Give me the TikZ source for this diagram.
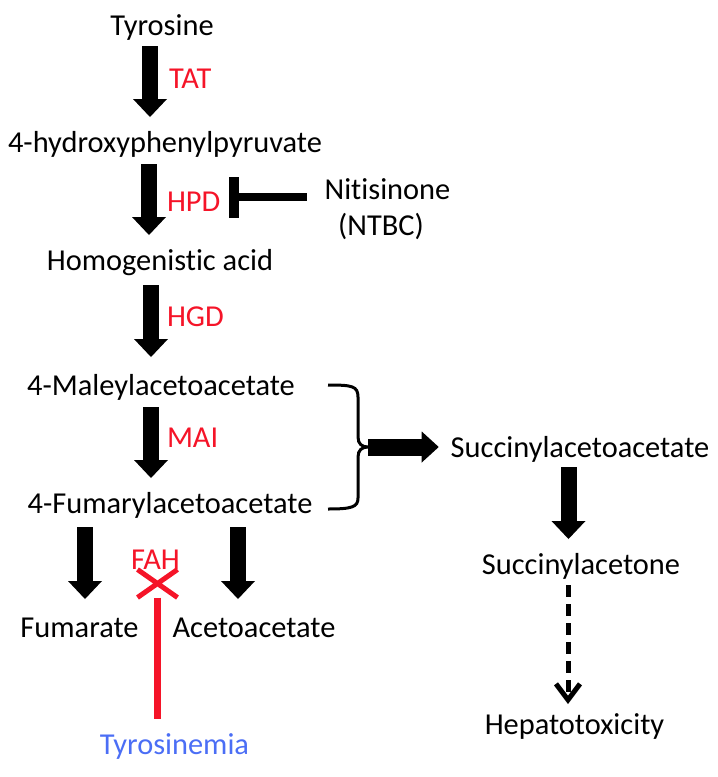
\documentclass[tikz,border=0pt]{standalone}
\usepackage{fontspec}
\setmainfont[Ligatures=NoCommon]{Carlito}
\usetikzlibrary{arrows.meta,shapes.misc}
\definecolor{enz}{RGB}{245,20,40}
\definecolor{dis}{RGB}{75,110,245}
\begin{document}
\begin{tikzpicture}[x=1pt,y=-1pt,
  lbl/.style={anchor=base,inner sep=0pt,outer sep=0pt,text height=19pt,text depth=6pt,font=\fontsize{30.4}{36}\selectfont},
  enzl/.style={lbl,anchor=base west,text=enz},
  blk/.style={line width=16pt,-{Triangle[width=34pt,length=18pt,line width=0pt]}},
  fat/.style={line width=17pt,-{Triangle[width=31pt,length=17pt,line width=0pt]}},
  dsh/.style={line width=5pt,dash pattern=on 12pt off 7pt,-{Straight Barb[width=24pt,length=16pt]}},
  inhib/.style={line width=8pt},
  inhbar/.style={line width=10pt},
  bracel/.style={line width=3pt},
  redl/.style={draw=enz,line width=7pt}
]
\useasboundingbox (0,0) rectangle (718,777);
% metabolites
\node[lbl] (tyr) at (162,35) {Tyrosine};
\node[lbl] (hpp) at (165,152) {4-hydroxyphenylpyruvate};
\node[lbl] (hga) at (160,270) {Homogenistic acid};
\node[lbl] (mal) at (161,395) {4-Maleylacetoacetate};
\node[lbl] (fum) at (170,513) {4-Fumarylacetoacetate};
\node[lbl] (fa) at (79.5,637) {Fumarate};
\node[lbl] (aa) at (254,637) {Acetoacetate};
\node[lbl,text=dis] (tyro) at (174.5,754) {Tyrosinemia};
\node[lbl] (nit) at (387.5,199) {Nitisinone};
\node[lbl] (ntbc) at (381,235) {(NTBC)};
\node[lbl] (sa) at (580,457) {Succinylacetoacetate};
\node[lbl] (sn) at (581,574) {Succinylacetone};
\node[lbl] (hep) at (574.5,734) {Hepatotoxicity};
% enzymes
\node[enzl] (tat) at (169,88) {TAT};
\node[enzl] (hpd) at (167,211) {HPD};
\node[enzl] (hgd) at (167,326) {HGD};
\node[enzl] (mai) at (167,447) {MAI};
\node[lbl,text=enz] (fah) at (155.5,569) {FAH};
% main pathway arrows
\draw[blk] ([xshift=-12pt,yshift=-5pt]tyr.south) -- ([xshift=-15pt,yshift=16pt]hpp.north);
\draw[blk] ([xshift=-16pt,yshift=-6pt]hpp.south) -- ([xshift=-11pt,yshift=16pt]hga.north);
\draw[blk] ([xshift=-9pt,yshift=-9pt]hga.south) -- ([xshift=-10pt,yshift=19pt]mal.north);
\draw[blk] ([xshift=-10pt,yshift=-6pt]mal.south) -- ([xshift=-19pt,yshift=16pt]fum.north);
\draw[blk] ([xshift=-85pt,yshift=-8pt]fum.south) -- ([xshift=5.5pt,yshift=19pt]fa.north);
\draw[blk] ([xshift=68pt,yshift=-8pt]fum.south) -- ([xshift=-16pt,yshift=19pt]aa.north);
\draw[blk] ([xshift=-11.5pt,yshift=-4pt]sa.south) -- ([xshift=-12.5pt,yshift=16pt]sn.north);
\draw[dsh] ([xshift=-13pt,yshift=-5pt]sn.south) -- ([xshift=-6.5pt,yshift=11pt]hep.north);
% inhibition by nitisinone
\draw[inhib] ([xshift=-18pt,yshift=-4.5pt]nit.west) -- (234,197) coordinate (bar);
\draw[inhbar] ([yshift=20pt]bar) -- ([yshift=-21pt]bar);
% brace
\draw[bracel] (328,385) .. controls (352,385) and (358,386) .. (358,397) -- (358,437)
  .. controls (358,444) and (362,447) .. (368,447) coordinate (brtip)
  .. controls (362,447) and (358,450) .. (358,457) -- (358,498)
  .. controls (358,507) and (352,509) .. (328,509);
\draw[fat] (brtip) -- ([xshift=-12pt,yshift=3.5pt]sa.west);
% FAH block
\node[cross out,draw=enz,line width=5pt,minimum width=35pt,minimum height=23pt,inner sep=0pt] (fahx) at (157.5,583.5) {};
\draw[redl] (fahx.south) -- ([xshift=-17pt,yshift=16pt]tyro.north);
\end{tikzpicture}
\end{document}
